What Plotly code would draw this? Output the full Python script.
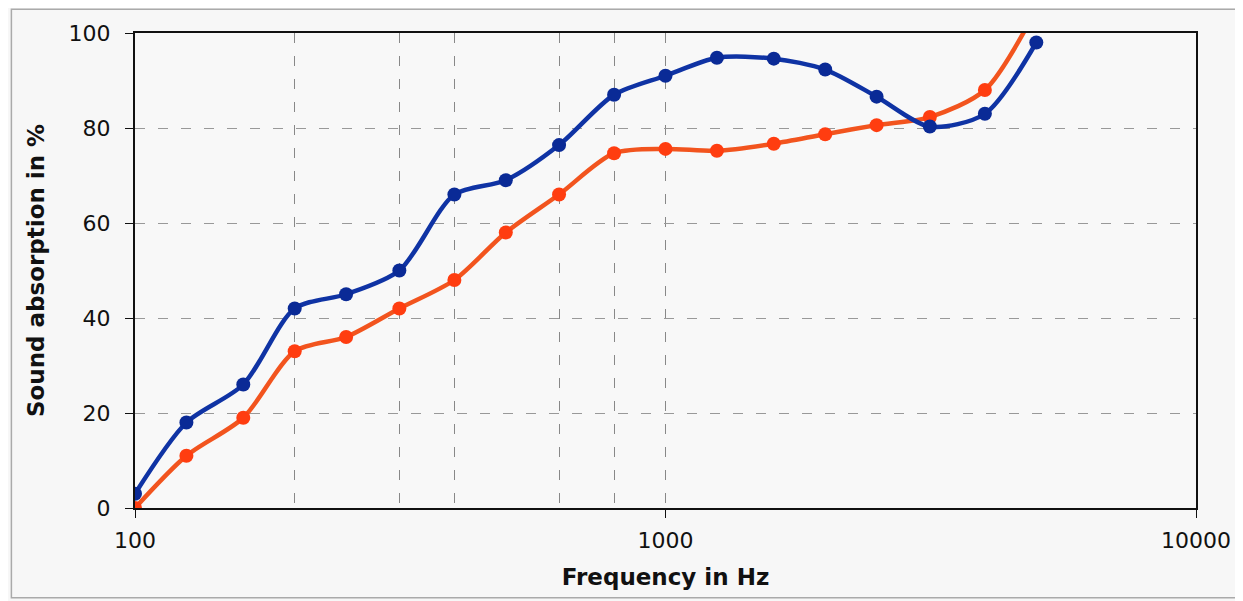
import plotly.graph_objects as go

freq = [100, 125, 160, 200, 250, 315, 400, 500, 630, 800, 1000, 1250, 1600, 2000, 2500, 3150, 4000, 5000]
blue = [3, 18, 26, 42, 45, 50, 66, 69, 76.4, 87, 91, 94.8, 94.6, 92.3, 86.6, 80.3, 83, 98]
red = [0, 11, 19, 33, 36, 42, 48, 58, 66, 74.7, 75.6, 75.2, 76.7, 78.7, 80.6, 82.3, 88, 105]

x_ticks = [100, 1000, 10000]
x_ticktext = ["100", "1000", "10000"]
x_minor_grid = [200, 315, 400, 630, 800]
y_ticks = [0, 20, 40, 60, 80, 100]

fig = go.Figure()
fig.add_trace(go.Scatter(
    x=freq, y=red, mode="lines+markers",
    line=dict(color="#f2541e", width=4.5, shape="spline", smoothing=0.8),
    marker=dict(color="#ff3d10", size=14),
    showlegend=False,
))
fig.add_trace(go.Scatter(
    x=freq, y=blue, mode="lines+markers",
    line=dict(color="#0f33a4", width=4.5, shape="spline", smoothing=0.8),
    marker=dict(color="#0a2a96", size=14),
    showlegend=False,
))

font_family = "DejaVu Sans, Verdana, sans-serif"
dash = "10px,13px"
fig.update_layout(
    width=1235, height=593,
    margin=dict(l=127, r=43, t=25, b=93),
    paper_bgcolor="#f7f7f7",
    plot_bgcolor="#f8f8f8",
    font=dict(family=font_family, size=22, color="#111"),
    xaxis=dict(
        type="log", range=[2, 4],
        tickvals=x_ticks, ticktext=x_ticktext,
        showgrid=True, gridcolor="#888", griddash=dash, gridwidth=1.3,
        minor=dict(tickvals=x_minor_grid, showgrid=True, gridcolor="#888",
                   griddash=dash, gridwidth=1.3, ticks=""),
        showline=True, linecolor="#111", linewidth=2, mirror=True,
        ticks="outside", ticklen=8, tickcolor="#111",
        ticklabelstandoff=4,
        zeroline=False,
        title=dict(text="<b>Frequency in Hz</b>", font=dict(size=23), standoff=16),
        tickfont=dict(size=22),
    ),
    yaxis=dict(
        range=[0, 100], tickvals=y_ticks,
        showgrid=True, gridcolor="#999", griddash=dash, gridwidth=1.3,
        showline=True, linecolor="#111", linewidth=2, mirror=True,
        ticks="outside", ticklen=8, tickcolor="#111",
        ticklabelstandoff=10,
        zeroline=False,
        title=dict(text="<b>Sound absorption in %</b>", font=dict(size=23), standoff=18),
        tickfont=dict(size=22),
    ),
    shapes=[dict(type="rect", xref="paper", yref="paper",
                 x0=-0.1165, x1=1.0376, y0=-0.189, y1=1.05,
                 line=dict(color="#aaa", width=1.5), fillcolor="rgba(0,0,0,0)")],
)

fig.write_html("out.html")
